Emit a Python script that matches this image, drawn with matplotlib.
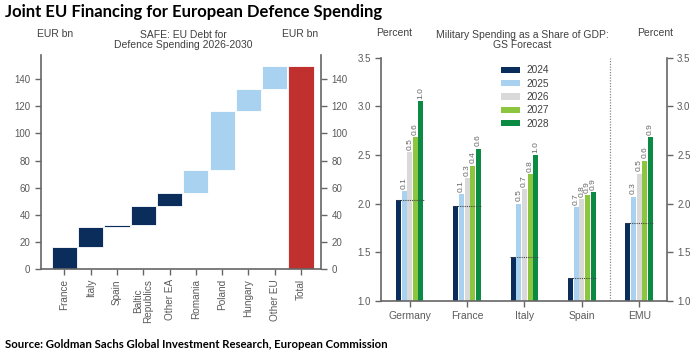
import matplotlib
matplotlib.use("Agg")
import matplotlib.pyplot as plt
from matplotlib.patches import Patch
import numpy as np

# ---- Data: left waterfall (EUR bn) ----
wf_categories = ["France", "Italy", "Spain", "Baltic\nRepublics", "Other EA",
                 "Romania", "Poland", "Hungary", "Other EU", "Total"]
wf_values = [16.0, 14.6, 1.5, 14.3, 9.6, 16.7, 43.7, 16.2, 17.4, 150.0]
wf_group = ["EA", "EA", "EA", "EA", "EA", "nonEA", "nonEA", "nonEA", "nonEA", "total"]

# ---- Data: right grouped bars (percent of GDP) ----
countries = ["Germany", "France", "Italy", "Spain", "EMU"]
years = ["2024", "2025", "2026", "2027", "2028"]
spend = {
    "2024": [2.04, 1.98, 1.455, 1.235, 1.80],
    "2025": [2.13, 2.10, 2.00, 1.965, 2.07],
    "2026": [2.53, 2.26, 2.15, 2.045, 2.31],
    "2027": [2.68, 2.39, 2.30, 2.085, 2.44],
    "2028": [3.055, 2.565, 2.50, 2.12, 2.68],
}
diff_labels = {
    "2025": ["0.1", "0.1", "0.5", "0.7", "0.3"],
    "2026": ["0.5", "0.3", "0.7", "0.8", "0.5"],
    "2027": ["0.6", "0.4", "0.8", "0.9", "0.6"],
    "2028": ["1.0", "0.6", "1.0", "0.9", "0.9"],
}

NAVY = "#0a2d5c"
LBLUE = "#a9d1f0"
RED = "#c0302f"
GRAY_T = "#5a5a5a"
SPINE = "#666666"
year_colors = {"2024": NAVY, "2025": LBLUE, "2026": "#d9d9d9",
               "2027": "#8cc63f", "2028": "#0b8a44"}
group_colors = {"EA": NAVY, "nonEA": LBLUE, "total": RED}

plt.rcParams["font.family"] = ["Liberation Sans", "DejaVu Sans"]

fig = plt.figure(figsize=(7.0, 3.61), dpi=100)

def style_axes(ax):
    ax.spines["top"].set_visible(False)
    for s in ["left", "right", "bottom"]:
        ax.spines[s].set_color(SPINE)
        ax.spines[s].set_linewidth(1.2)
    ax.tick_params(axis="both", colors=SPINE, labelcolor=GRAY_T, labelsize=7,
                   length=4, width=1.0, direction="out")
    ax.tick_params(axis="y", left=True, right=True, labelleft=True, labelright=True)

# ---- Left: waterfall ----
ax1 = fig.add_axes([0.0581, 0.2557, 0.4005, 0.5919])
x = np.arange(len(wf_categories))
bottoms = []
cum = 0.0
for v, g in zip(wf_values, wf_group):
    if g == "total":
        bottoms.append(0.0)
    else:
        bottoms.append(cum)
        cum += v
ax1.bar(x, wf_values, bottom=bottoms, width=0.96,
        color=[group_colors[g] for g in wf_group], edgecolor="white", linewidth=0.6)
ax1.set_xlim(-0.9, 9.76)
ax1.set_ylim(0, 158)
ax1.set_yticks(np.arange(0, 141, 20))
ax1.set_xticks(x)
ax1.set_xticklabels(wf_categories, rotation=90, va="top", ha="center", linespacing=1.0)
style_axes(ax1)
ax1.tick_params(axis="x", labelsize=7.2)

fig.text(55 / 700, 1 - 34 / 361, "EUR bn", ha="center", va="center", fontsize=7.5, color="#404040")
fig.text(300 / 700, 1 - 34 / 361, "EUR bn", ha="center", va="center", fontsize=7.5, color="#404040")
fig.text(183 / 700, 1 - 40 / 361, "SAFE: EU Debt for\nDefence Spending 2026-2030",
         ha="center", va="center", fontsize=7.5, color="#404040", linespacing=1.0)

# ---- Right: grouped bars ----
ax2 = fig.add_axes([0.5443, 0.1662, 0.4081, 0.6740])
xc = np.arange(len(countries))
slot = 0.098
bw = 0.088
for i, yr in enumerate(years):
    offs = (i - 2) * slot
    vals = spend[yr]
    ax2.bar(xc + offs, np.array(vals) - 1.0, bottom=1.0, width=bw,
            color=year_colors[yr], linewidth=0)
    if yr in diff_labels:
        for xi, v, lab in zip(xc + offs, vals, diff_labels[yr]):
            ax2.text(xi, v + 0.025, lab, rotation=90, ha="center", va="bottom",
                     fontsize=6, color="#666666")
for xi, v in zip(xc, spend["2024"]):
    ax2.plot([xi - 2.5 * slot, xi + 2.5 * slot], [v, v], linestyle=(0, (1, 1)),
             color="#444444", linewidth=0.8)
ax2.axvline(3.5, color="#888888", linestyle=(0, (1, 1.2)), linewidth=0.9)
ax2.set_xlim(-0.5, 4.48)
ax2.set_ylim(1.0, 3.5)
ax2.set_yticks([1.0, 1.5, 2.0, 2.5, 3.0, 3.5])
ax2.set_yticklabels(["1.0", "1.5", "2.0", "2.5", "3.0", "3.5"])
ax2.set_xticks(xc)
ax2.set_xticklabels(countries)
style_axes(ax2)
ax2.tick_params(axis="x", labelsize=7.5)

handles = [Patch(facecolor=year_colors[y], edgecolor="none", label=y) for y in years]
ax2.legend(handles=handles, loc="upper left", bbox_to_anchor=(0.405, 0.985),
           frameon=False, fontsize=7.3, handlelength=1.85, handleheight=0.55,
           labelspacing=0.33, handletextpad=0.7, borderaxespad=0.0,
           labelcolor="#404040")

fig.text(394 / 700, 1 - 33 / 361, "Percent", ha="center", va="center", fontsize=7.5, color="#404040")
fig.text(655 / 700, 1 - 33 / 361, "Percent", ha="center", va="center", fontsize=7.5, color="#404040")
fig.text(522 / 700, 1 - 40 / 361, "Military Spending as a Share of GDP:\nGS Forecast",
         ha="center", va="center", fontsize=7.5, color="#404040", linespacing=1.0)

# ---- Title and source ----
fig.text(5 / 700, 1 - 12 / 361, "Joint EU Financing for European Defence Spending",
         ha="left", va="center", fontsize=12, fontweight="bold", family=["Lato", "DejaVu Sans"])
fig.text(5 / 700, 1 - 345 / 361, "Source: Goldman Sachs Global Investment Research, European Commission",
         ha="left", va="center", fontsize=8.2, fontweight="bold", family=["Lato", "DejaVu Sans"])

fig.savefig("out.png", dpi=100)
